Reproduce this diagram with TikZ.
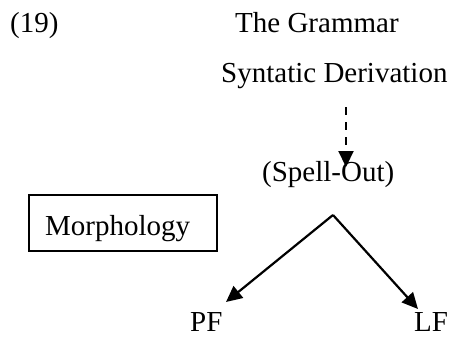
\documentclass[tikz,border=0pt]{standalone}
\usepackage{fontspec}
\setmainfont{Liberation Serif}
\usetikzlibrary{arrows.meta}
\begin{document}
\begin{tikzpicture}[x=1pt,y=-1pt,
  lbl/.style={inner sep=0pt,anchor=base west,font=\fontsize{29}{31}\selectfont},
  conn/.style={line width=2.2pt,-{Triangle[length=16pt,width=15pt]}},
  boxed/.style={draw,line width=1.6pt,inner sep=0pt}]
\useasboundingbox (0,0) rectangle (450,337);
% labels (y grows downward)
\node[lbl] (n19) at (10,33) {(19)};
\node[lbl] (title) at (235,33) {The Grammar};
\node[lbl] (synder) at (221,83) {Syntatic Derivation};
\node[lbl] (spell) at (262,181) {(Spell-Out)};
\node[lbl] (pf) at (190,331) {PF};
\node[lbl] (lf) at (414,331) {LF};
% morphology box
\node[lbl] (morphtxt) at (45,235) {Morphology};
\draw[line width=1.6pt] (29,195) rectangle (217,251);
% connectors
\coordinate (dtop) at (346,107);
\coordinate (dend) at (346,167);
\coordinate (apex) at (333,215);
\coordinate (pftip) at (226,302);
\coordinate (lftip) at (418,309);
\draw[conn,dash pattern=on 8pt off 7pt] (dtop) -- (dend);
\draw[conn] (apex) -- (pftip);
\draw[conn] (apex) -- (lftip);
\end{tikzpicture}
\end{document}
